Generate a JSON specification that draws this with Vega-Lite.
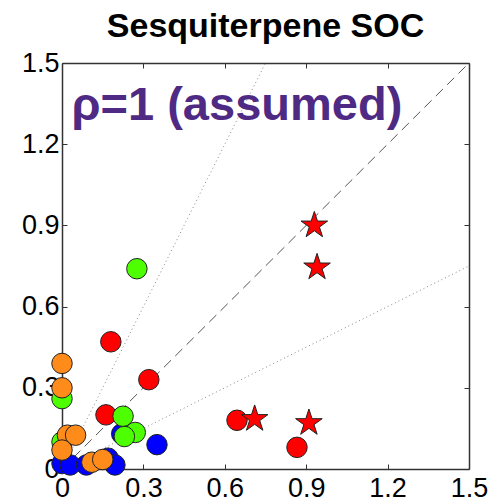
{
  "$schema": "https://vega.github.io/schema/vega-lite/v6.json",
  "width": 407,
  "height": 406,
  "autosize": "none",
  "padding": {"left": 62, "top": 63, "right": 23, "bottom": 35},
  "background": "white",
  "config": {
    "view": {"stroke": null},
    "font": "Liberation Sans",
    "axis": {"grid": false, "domainColor": "#333", "domainWidth": 1.5, "tickColor": "#333", "labelFont": "Liberation Sans", "labelFontSize": 27, "labelColor": "black", "zindex": 1}
  },
  "title": {"text": "Sesquiterpene SOC", "font": "Liberation Sans", "fontSize": 34, "fontWeight": "bold", "anchor": "middle", "offset": 5, "color": "black"},
  "resolve": {"axis": {"x": "independent", "y": "independent"}},
  "layer": [
    {
      "data": {"values": [
        {"x": 0, "y": 0, "x2": 1.5, "y2": 1.5}
      ]},
      "mark": {"type": "rule", "strokeWidth": 1, "color": "#555555", "strokeDash": [10, 6]},
      "encoding": {
        "x": {"field": "x", "type": "quantitative", "scale": {"domain": [0, 1.5], "nice": false, "zero": false},
              "axis": {"orient": "bottom", "title": null, "values": [0, 0.3, 0.6, 0.9, 1.2, 1.5], "format": ".1~f", "tickSize": -5, "labelPadding": 11, "labelFlush": false, "labelOverlap": false}},
        "x2": {"field": "x2"},
        "y": {"field": "y", "type": "quantitative", "scale": {"domain": [0, 1.5], "nice": false, "zero": false},
              "axis": {"orient": "left", "title": null, "values": [0, 0.3, 0.6, 0.9, 1.2, 1.5], "format": ".1~f", "tickSize": -5, "labelPadding": 8, "labelFlush": false, "labelOverlap": false}},
        "y2": {"field": "y2"}
      }
    },
    {
      "data": {"values": [
        {"x": 0, "y": 0, "x2": 0.75, "y2": 1.5},
        {"x": 0, "y": 0, "x2": 1.5, "y2": 0.75}
      ]},
      "mark": {"type": "rule", "strokeWidth": 1, "color": "#888888", "strokeDash": [1, 3]},
      "encoding": {
        "x": {"field": "x", "type": "quantitative",
              "axis": {"orient": "top", "title": null, "values": [0, 0.3, 0.6, 0.9, 1.2, 1.5], "labels": false, "tickSize": -5}},
        "x2": {"field": "x2"},
        "y": {"field": "y", "type": "quantitative",
              "axis": {"orient": "right", "title": null, "values": [0, 0.3, 0.6, 0.9, 1.2, 1.5], "labels": false, "tickSize": -5}},
        "y2": {"field": "y2"}
      }
    },
    {
      "data": {"values": [
        {"x": 0.00, "y": 0.02, "grp": "blue"},
        {"x": 0.03, "y": 0.015, "grp": "blue"},
        {"x": 0.09, "y": 0.015, "grp": "blue"},
        {"x": 0.17, "y": 0.04, "grp": "blue"},
        {"x": 0.195, "y": 0.015, "grp": "blue"},
        {"x": 0.22, "y": 0.13, "grp": "blue"},
        {"x": 0.35, "y": 0.09, "grp": "blue"},
        {"x": 0.18, "y": 0.47, "grp": "red"},
        {"x": 0.32, "y": 0.33, "grp": "red"},
        {"x": 0.162, "y": 0.20, "grp": "red"},
        {"x": 0.645, "y": 0.18, "grp": "red"},
        {"x": 0.866, "y": 0.08, "grp": "red"},
        {"x": 0.276, "y": 0.74, "grp": "green"},
        {"x": 0.00, "y": 0.26, "grp": "green"},
        {"x": 0.225, "y": 0.195, "grp": "green"},
        {"x": 0.27, "y": 0.135, "grp": "green"},
        {"x": 0.23, "y": 0.12, "grp": "green"},
        {"x": 0.00, "y": 0.10, "grp": "green"},
        {"x": 0.00, "y": 0.39, "grp": "orange"},
        {"x": 0.00, "y": 0.30, "grp": "orange"},
        {"x": 0.02, "y": 0.125, "grp": "orange"},
        {"x": 0.05, "y": 0.125, "grp": "orange"},
        {"x": 0.00, "y": 0.07, "grp": "orange"},
        {"x": 0.11, "y": 0.025, "grp": "orange"},
        {"x": 0.15, "y": 0.035, "grp": "orange"}
      ]},
      "mark": {"type": "point", "shape": "circle", "size": 420, "filled": true, "opacity": 1, "stroke": "#222", "strokeWidth": 1},
      "encoding": {
        "x": {"field": "x", "type": "quantitative", "axis": null},
        "y": {"field": "y", "type": "quantitative", "axis": null},
        "color": {"field": "grp", "type": "nominal", "scale": {"domain": ["blue", "red", "green", "orange"], "range": ["#0000ff", "#ff0000", "#4dff00", "#ff8c1a"]}, "legend": null}
      }
    },
    {
      "data": {"values": [
        {"x": 0.93, "y": 0.90, "grp": "red"},
        {"x": 0.94, "y": 0.745, "grp": "red"},
        {"x": 0.71, "y": 0.185, "grp": "red"},
        {"x": 0.91, "y": 0.17, "grp": "red"}
      ]},
      "mark": {"type": "point", "shape": "M0,-1L0.2245,-0.309L0.951,-0.309L0.363,0.118L0.588,0.809L0,0.382L-0.588,0.809L-0.363,0.118L-0.951,-0.309L-0.2245,-0.309Z", "size": 784, "filled": true, "opacity": 1, "stroke": "#222", "strokeWidth": 1},
      "encoding": {
        "x": {"field": "x", "type": "quantitative", "axis": null},
        "y": {"field": "y", "type": "quantitative", "axis": null},
        "color": {"field": "grp", "type": "nominal", "legend": null}
      }
    },
    {
      "data": {"values": [{"x": 0.035, "y": 1.288, "label": "ρ=1 (assumed)"}]},
      "mark": {"type": "text", "align": "left", "baseline": "alphabetic", "font": "Liberation Sans", "fontSize": 47, "fontWeight": "bold", "color": "#4e2a84"},
      "encoding": {
        "x": {"field": "x", "type": "quantitative", "axis": null},
        "y": {"field": "y", "type": "quantitative", "axis": null},
        "text": {"field": "label"}
      }
    }
  ]
}
